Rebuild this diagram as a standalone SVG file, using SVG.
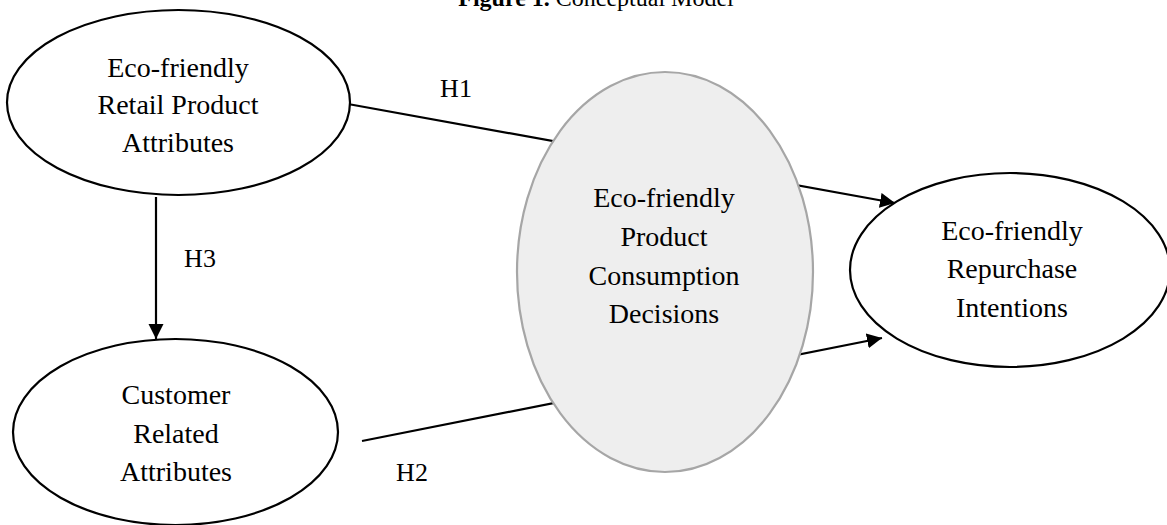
<svg xmlns="http://www.w3.org/2000/svg" width="1167" height="525" viewBox="0 0 1167 525">
  <style>
    .t { font-family: "Liberation Serif", "Times New Roman", serif; font-size: 28px; fill: #000; text-anchor: middle; }
    .lbl { font-family: "Liberation Serif", "Times New Roman", serif; font-size: 26px; fill: #000; text-anchor: middle; }
    .title { font-family: "Liberation Serif", "Times New Roman", serif; font-size: 24px; fill: #000; text-anchor: middle; }
    .node { fill: #ffffff; stroke: #000; stroke-width: 2.2; }
    .mid { fill: #eeeeee; stroke: #a6a6a6; stroke-width: 2.2; }
    .edge { stroke: #000; stroke-width: 2.2; fill: none; }
  </style>
  <defs>
    <marker id="arrow" markerUnits="userSpaceOnUse" markerWidth="16" markerHeight="16" refX="15" refY="7.5" orient="auto">
      <path d="M0,0 L15,7.5 L0,15 Z" fill="#000"/>
    </marker>
  </defs>
  <rect width="1167" height="525" fill="#ffffff"/>

  <text class="title" x="596" y="6"><tspan font-weight="bold">Figure 1.</tspan> Conceptual Model</text>

  <g id="connectors">
    <line class="edge" x1="348" y1="104" x2="895" y2="203" marker-end="url(#arrow)"/>
    <line class="edge" x1="362" y1="441" x2="882" y2="338" marker-end="url(#arrow)"/>
    <line class="edge" x1="156" y1="197" x2="156" y2="339" marker-end="url(#arrow)"/>
    <text class="lbl" x="456" y="97">H1</text>
    <text class="lbl" x="412" y="481">H2</text>
    <text class="lbl" x="200" y="267">H3</text>
  </g>

  <g id="node-retail">
    <ellipse class="node" cx="178.5" cy="102.5" rx="171.5" ry="92.5"/>
    <text class="t" x="178" y="77">Eco-friendly</text>
    <text class="t" x="178" y="114">Retail Product</text>
    <text class="t" x="178" y="152">Attributes</text>
  </g>

  <g id="node-customer">
    <ellipse class="node" cx="175.5" cy="432" rx="162.5" ry="93"/>
    <text class="t" x="176" y="404">Customer</text>
    <text class="t" x="176" y="443">Related</text>
    <text class="t" x="176" y="481">Attributes</text>
  </g>

  <g id="node-decisions">
    <ellipse class="mid" cx="665" cy="272" rx="148" ry="200"/>
    <text class="t" x="664" y="207">Eco-friendly</text>
    <text class="t" x="664" y="246">Product</text>
    <text class="t" x="664" y="285">Consumption</text>
    <text class="t" x="664" y="323">Decisions</text>
  </g>

  <g id="node-repurchase">
    <ellipse class="node" cx="1010" cy="270" rx="160" ry="97"/>
    <text class="t" x="1012" y="240">Eco-friendly</text>
    <text class="t" x="1012" y="278">Repurchase</text>
    <text class="t" x="1012" y="317">Intentions</text>
  </g>
</svg>
